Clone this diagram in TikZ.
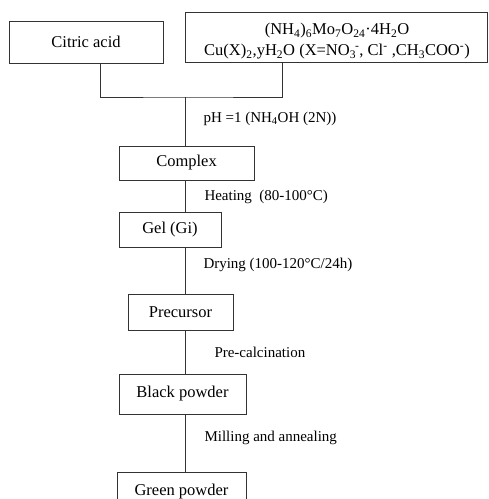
\documentclass[tikz,border=0pt]{standalone}
\usepackage{fontspec}
\setmainfont{Liberation Serif}
\tikzset{box/.style={draw, line width=1pt, inner sep=0pt, font=\fontsize{16.5}{19}\selectfont},
  steplbl/.style={anchor=west, inner sep=0pt, font=\fontsize{15}{17}\selectfont},
  chem/.style={inner sep=0pt, font=\fontsize{16.5}{19}\selectfont}}

\begin{document}
\begin{tikzpicture}[x=1pt, y=-1pt, line width=1pt, draw=black!80]
\clip (0,0) rectangle (489,499);
% starting materials
\node[box, minimum width=154pt, minimum height=42pt] (citric) at (86,42) {Citric acid};
\node[box, minimum width=302pt, minimum height=50pt] (salts) at (336.5,37) {};
\node[chem] (molyb) at (337,31) {(NH\textsubscript{4})\textsubscript{6}Mo\textsubscript{7}O\textsubscript{24}·4H\textsubscript{2}O};
\node[chem] (copper) at (337,52) {Cu(X)\textsubscript{2},yH\textsubscript{2}O (X=NO\textsubscript{3}\kern-1pt\textsuperscript{-}, Cl\textsuperscript{-} ,CH\textsubscript{3}COO\textsuperscript{-})};
\coordinate (citricfoot) at (100,63);
\coordinate (saltsfoot) at (282,62);
\coordinate (join) at (185,97);
% process steps
\node[box, minimum width=135pt, minimum height=34pt] (complex) at (186.5,163) {Complex};
\node[box, minimum width=102pt, minimum height=35pt] (gel) at (170,229.5) {Gel (Gi)};
\node[box, minimum width=105pt, minimum height=36pt] (precursor) at (180.5,312) {Precursor};
\node[box, minimum width=127pt, minimum height=40pt] (black) at (182.5,394) {Black powder};
\node[box, minimum width=129pt, minimum height=40pt] (green) at (181.5,492) {Green powder};
% conditions
\node[steplbl] (ph) at (203,119) {pH =1 (NH\textsubscript{4}OH (2N))};
\node[steplbl] (heat) at (204,197) {Heating~ (80-100°C)};
\node[steplbl] (dry) at (203,265) {Drying (100-120°C/24h)};
\node[steplbl] (precalc) at (214,352) {Pre-calcination};
\node[steplbl] (mill) at (204,438) {Milling and annealing};
% lines
\draw (citricfoot) |- (join) -| (saltsfoot);
\draw (join) -- (join |- complex.north);
\draw (complex.south -| join) -- (join |- gel.north);
\draw (gel.south -| join) -- (join |- precursor.north);
\draw (precursor.south -| join) -- (join |- black.north);
\draw (black.south -| join) -- (join |- green.north);
\end{tikzpicture}
\end{document}
